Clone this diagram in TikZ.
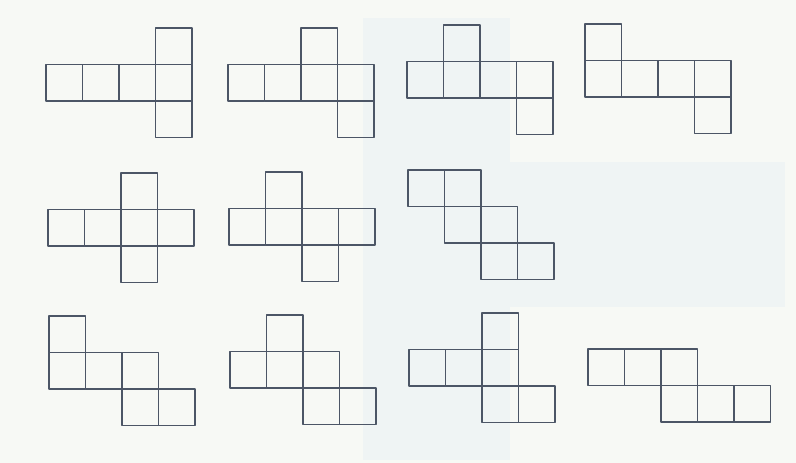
\documentclass[tikz,border=0pt]{standalone}
\usepackage{tikz}
\definecolor{paperwhite}{RGB}{247, 249, 245}
\definecolor{scantint}{RGB}{239, 244, 244}
\definecolor{netgray}{RGB}{76, 86, 102}

\tikzset{
  netline/.style={draw=netgray, line width=1.4pt, line join=round}
}

% one face of a net: \face{col}{row}
\newcommand{\face}[2]{\draw[netline] (#1*\u,#2*\u) rectangle ++(\u,\u);}

\begin{document}
\begin{tikzpicture}[x=1pt, y=-1pt]
    \def\u{36.5}

    % Paper and scan tint
    \fill[paperwhite] (0,0) rectangle (796,463);
    \fill[scantint] (363,18) rectangle (510,460);
    \fill[scantint] (510,162) rectangle (785,307);
    \useasboundingbox (0,0) rectangle (796,463);

    % Top row
    \begin{scope}[shift={(46,28)}]
      \foreach \c/\r in {0/1, 1/1, 2/1, 3/0, 3/1, 3/2} {\face{\c}{\r}}
    \end{scope}
    \begin{scope}[shift={(228,28)}]
      \foreach \c/\r in {0/1, 1/1, 2/0, 2/1, 3/1, 3/2} {\face{\c}{\r}}
    \end{scope}
    \begin{scope}[shift={(407,25)}]
      \foreach \c/\r in {1/0, 0/1, 1/1, 2/1, 3/1, 3/2} {\face{\c}{\r}}
    \end{scope}
    \begin{scope}[shift={(585,24)}]
      \foreach \c/\r in {0/0, 0/1, 1/1, 2/1, 3/1, 3/2} {\face{\c}{\r}}
    \end{scope}

    % Middle row
    \begin{scope}[shift={(48,173)}]
      \foreach \c/\r in {2/0, 0/1, 1/1, 2/1, 3/1, 2/2} {\face{\c}{\r}}
    \end{scope}
    \begin{scope}[shift={(229,172)}]
      \foreach \c/\r in {1/0, 0/1, 1/1, 2/1, 3/1, 2/2} {\face{\c}{\r}}
    \end{scope}
    \begin{scope}[shift={(408,170)}]
      \foreach \c/\r in {0/0, 1/0, 1/1, 2/1, 2/2, 3/2} {\face{\c}{\r}}
    \end{scope}

    % Bottom row
    \begin{scope}[shift={(49,316)}]
      \foreach \c/\r in {0/0, 0/1, 1/1, 2/1, 2/2, 3/2} {\face{\c}{\r}}
    \end{scope}
    \begin{scope}[shift={(230,315)}]
      \foreach \c/\r in {1/0, 0/1, 1/1, 2/1, 2/2, 3/2} {\face{\c}{\r}}
    \end{scope}
    \begin{scope}[shift={(409,313)}]
      \foreach \c/\r in {2/0, 0/1, 1/1, 2/1, 2/2, 3/2} {\face{\c}{\r}}
    \end{scope}
    \begin{scope}[shift={(588,349)}]
      \foreach \c/\r in {0/0, 1/0, 2/0, 2/1, 3/1, 4/1} {\face{\c}{\r}}
    \end{scope}

\end{tikzpicture}
\end{document}
